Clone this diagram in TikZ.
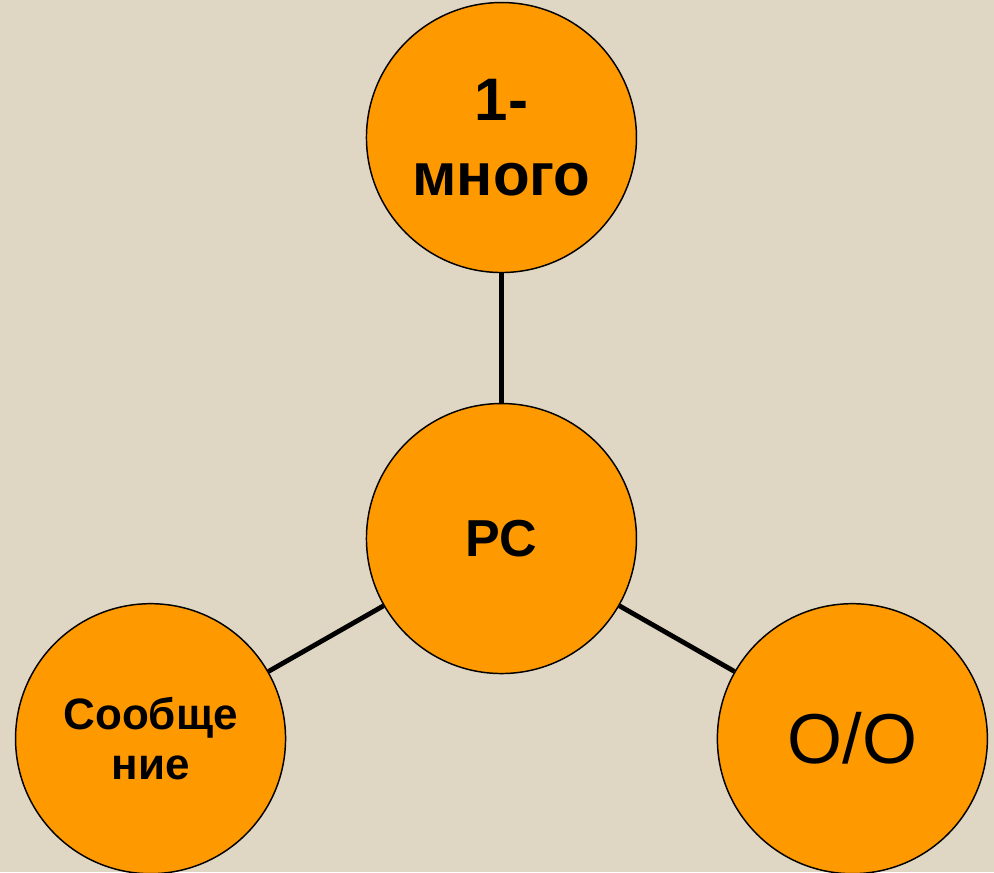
\documentclass[tikz,border=0pt]{standalone}
\usepackage{fontspec}
\setmainfont{Liberation Sans}
\usepackage{tikz}
\usetikzlibrary{positioning}
\definecolor{paper}{HTML}{DFD6C3}
\definecolor{bubblefill}{HTML}{FF9900}
\tikzset{
    star diagram/.style={
            node distance=300.75pt,
            bubble/.style={circle,draw=black,line width=1.1pt,fill=bubblefill,
                minimum size=202.5pt,inner sep=0pt,align=center},
            link/.style={line width=3.6pt,black}
        }
    }

\begin{document}
\begin{tikzpicture}[star diagram]
    % background
    \fill [paper] (-376.1pt,-250.1pt) rectangle (369.4pt,403.9pt);
    \useasboundingbox (-376.1pt,-250.1pt) rectangle (369.4pt,403.9pt);
    \node (pc) [bubble,font=\bfseries\fontsize{39}{46}\selectfont] {РС};
    \node (many) [bubble,above of=pc,font=\bfseries\fontsize{45}{56}\selectfont] {1-\\много};
    \node (msg) [bubble,font=\bfseries\fontsize{33}{37.5}\selectfont] at (209.7:303pt) {Сообще\\ние};
    \node (oo) [bubble,font=\fontsize{53}{60}\selectfont] at (330.3:303pt) {О/О};
    \draw [link] (pc) -- (many);
    \draw [link] (pc) -- (msg);
    \draw [link] (pc) -- (oo);
\end{tikzpicture}
\end{document}
